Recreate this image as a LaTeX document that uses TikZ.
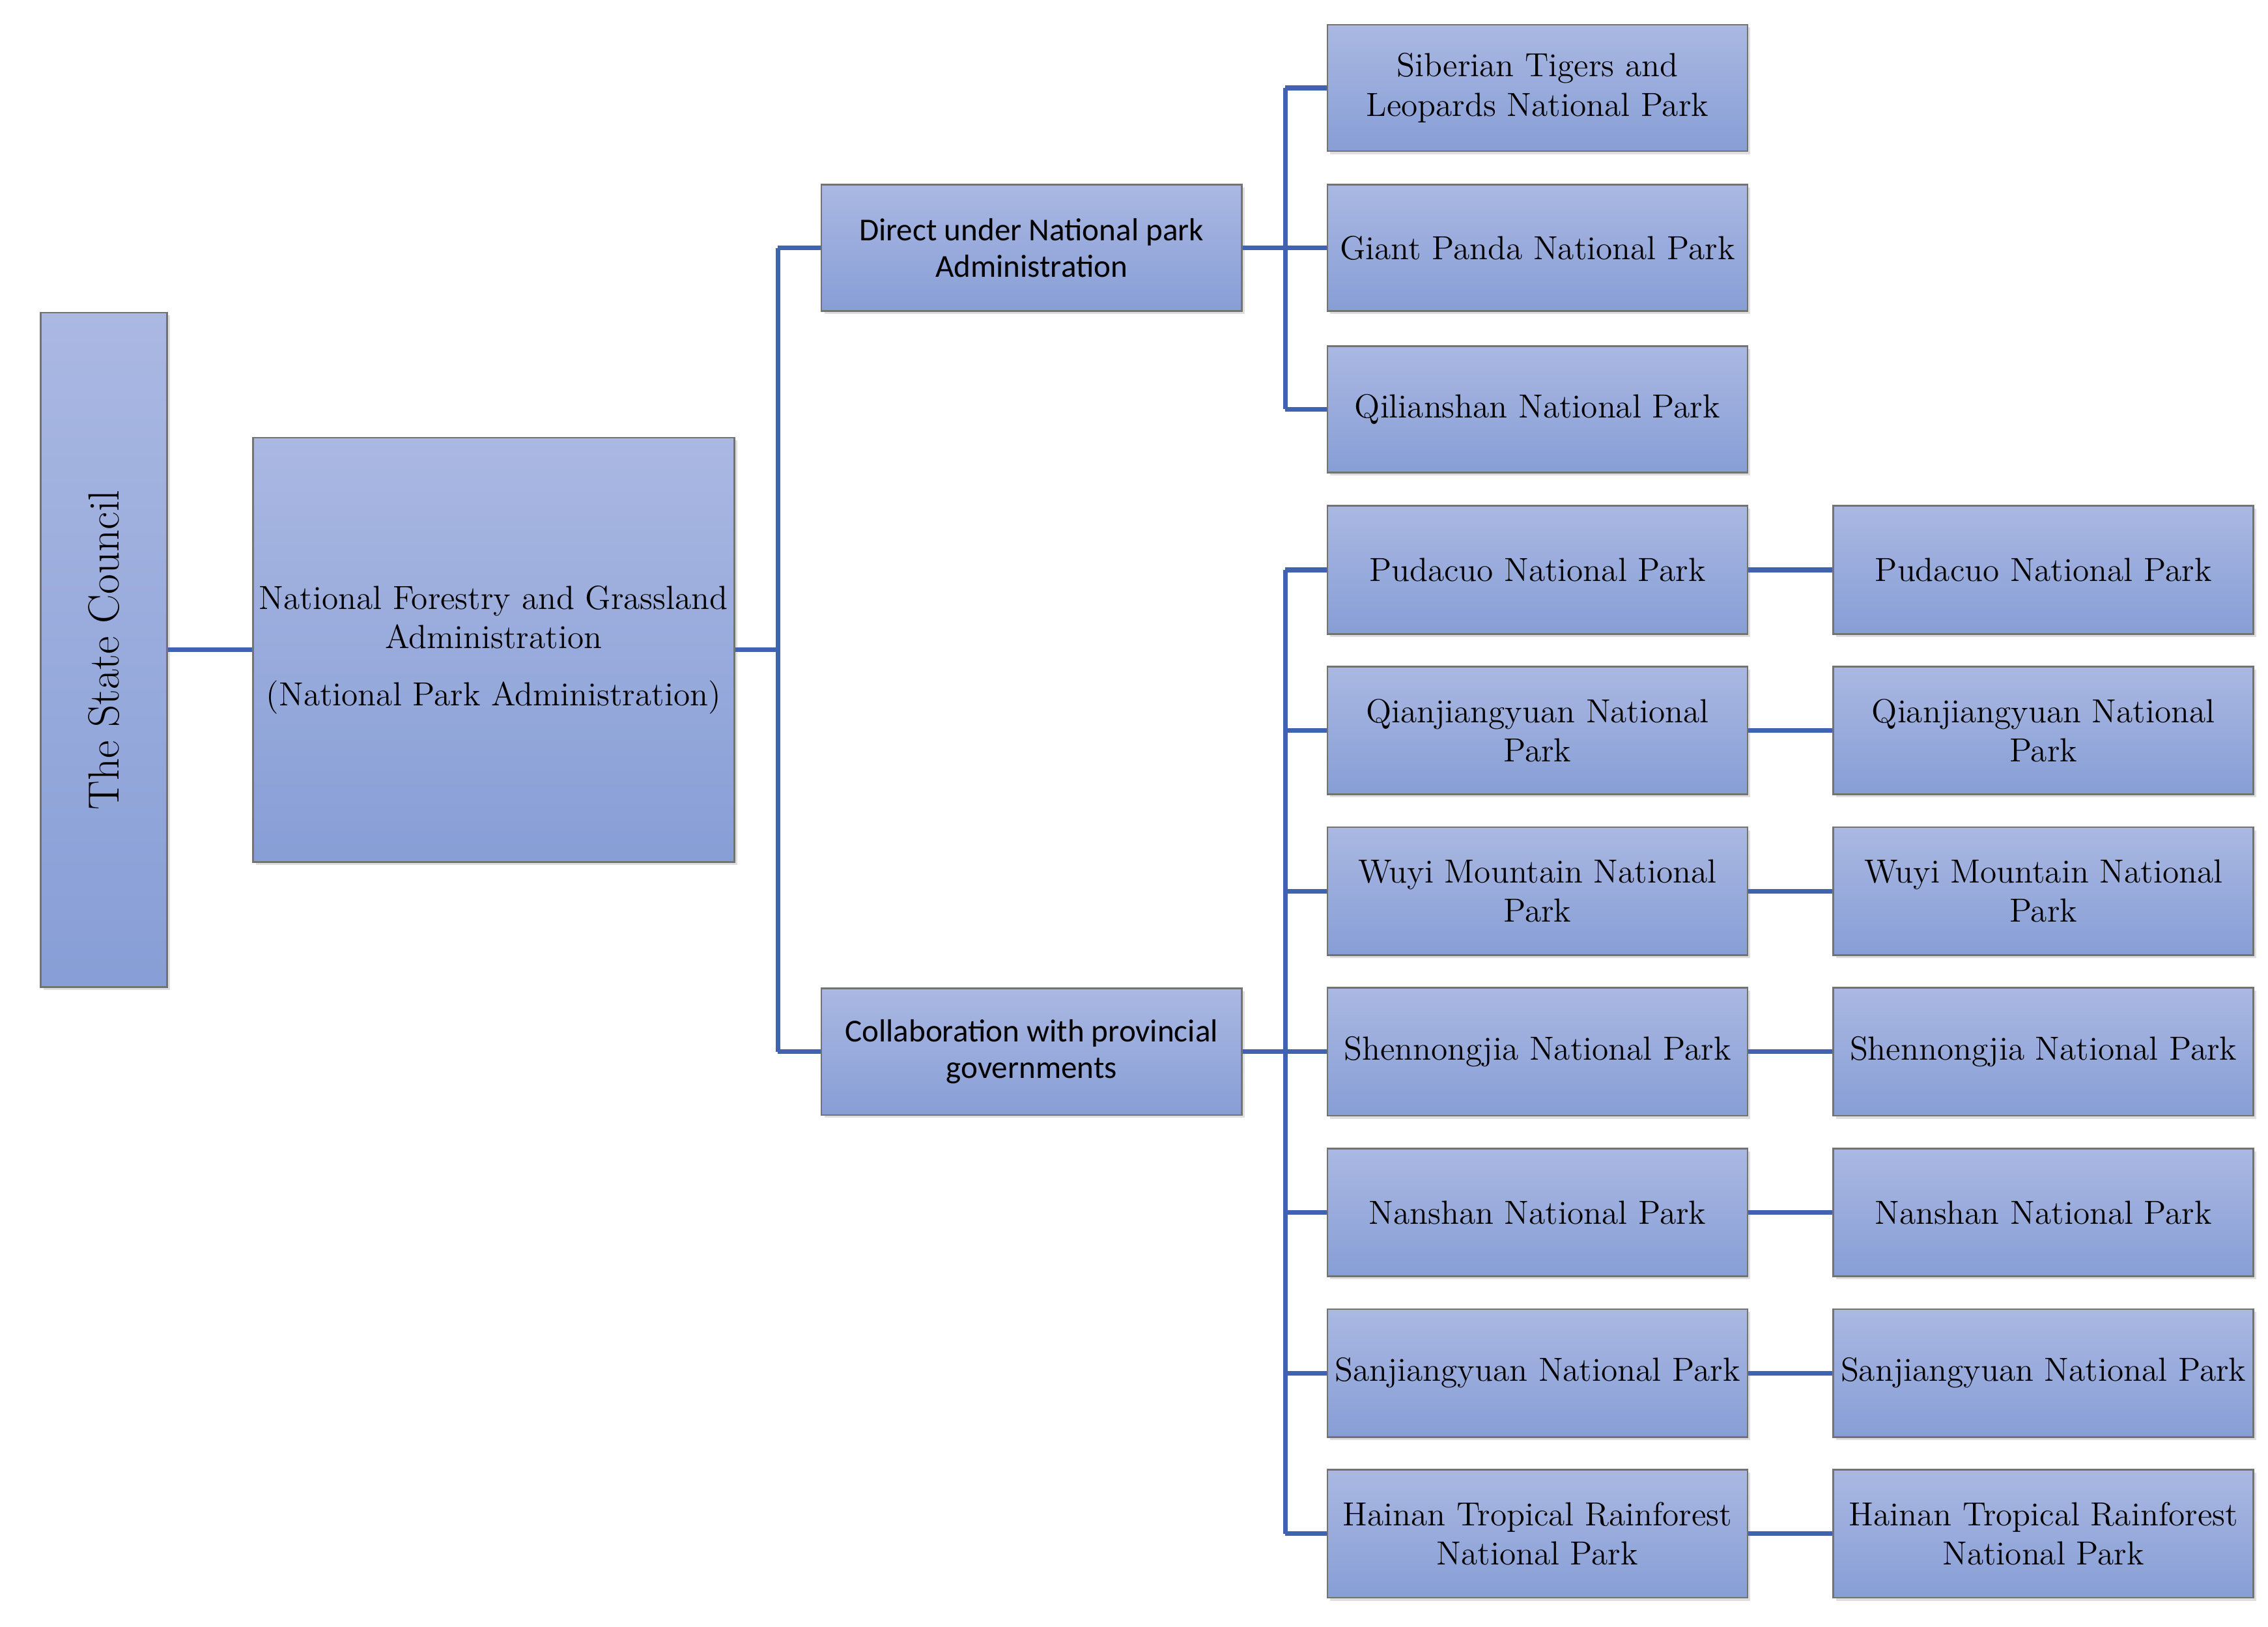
\documentclass[tikz,border=0pt]{standalone}
\usepackage{fontspec}
\newfontfamily\sansf{Carlito}
\usetikzlibrary{shadows}
\definecolor{ln}{HTML}{3F63B0}
\definecolor{topc}{HTML}{AAB8E2}
\definecolor{botc}{HTML}{879ED6}
\tikzset{
 bx/.style={draw=black!55,line width=0.6pt,top color=topc,bottom color=botc,align=center,inner sep=1pt,
   font=\fontsize{11.5}{13.5}\selectfont,drop shadow={opacity=0.25,shadow xshift=1pt,shadow yshift=-1pt}},
 sb/.style={font=\sansf\fontsize{11}{12.5}\selectfont},
 cn/.style={ln,line width=1.6pt}
}
\newcommand{\bx}[7][]{\node[bx,#1,minimum width=#4*0.5pt,minimum height=#5*0.5pt] (#2) at (#3) {#6};}
\begin{document}
\begin{tikzpicture}[x=0.5pt,y=-0.5pt]
\useasboundingbox[fill=white] (0,0) rectangle (1560,1119);
\bx{sc}{71.5,447}{87}{464}{\rotatebox{90}{\fontsize{15}{17}\selectfont The State Council}}{}
\bx{nf}{339.5,447}{331}{292}{National Forestry and Grassland\\Administration\\[6pt](National Park Administration)}{}
\bx[sb]{du}{709.5,170.5}{289}{87}{Direct under National park\\Administration}{}
\bx[sb]{co}{709.5,723.5}{289}{87}{Collaboration with provincial\\governments}{}
\bx{p1}{1057.5,60.5}{289}{87}{Siberian Tigers and\\Leopards National Park}{}
\bx{p2}{1057.5,170.5}{289}{87}{Giant Panda National Park}{}
\bx{p3}{1057.5,281.5}{289}{87}{Qilianshan National Park}{}
\foreach \i/\g/\p [count=\k from 0] in {
 Yunan Provincial\\Government/Pudacuo National Park,
 Zhejiang Provincial\\Government/Qianjiangyuan National\\Park,
 Fujian Provincial\\Government/Wuyi Mountain National\\Park,
 Hubei Provincial\\Government/Shennongjia National Park,
 Hunan Provincial\\Government/Nanshan National Park,
 Qinghai Provincial\\Government/Sanjiangyuan National Park,
 Hainan Provincial\\Govnerment/Hainan Tropical Rainforest\\National Park}{
 \pgfmathsetmacro\yy{392+110.5*\k}
 \node[bx,minimum width=144.5pt,minimum height=44pt] (g\k) at (1057.5,\yy) {\g};
 \node[bx,minimum width=144.5pt,minimum height=44pt] (n\k) at (1405.5,\yy) {\p};
 \draw[cn] (g\k.east) -- (n\k.west);
 \draw[cn] (884,\yy) -- (g\k.west);
}
\draw[cn] (sc.east) -- (nf.west);
\coordinate (b1) at (535,447);
\draw[cn] (nf.east) -- (b1);
\draw[cn] (535,170.5) -- (535,723.5);
\draw[cn] (535,170.5) -- (du.west);
\draw[cn] (535,723.5) -- (co.west);
\draw[cn] (du.east) -- (p2.west);
\draw[cn] (884,60.5) -- (884,281.5);
\draw[cn] (884,60.5) -- (p1.west);
\draw[cn] (884,281.5) -- (p3.west);
\draw[cn] (co.east) -- (884,723.5);
\draw[cn] (884,392) -- (884,1055);
\end{tikzpicture}
\end{document}
